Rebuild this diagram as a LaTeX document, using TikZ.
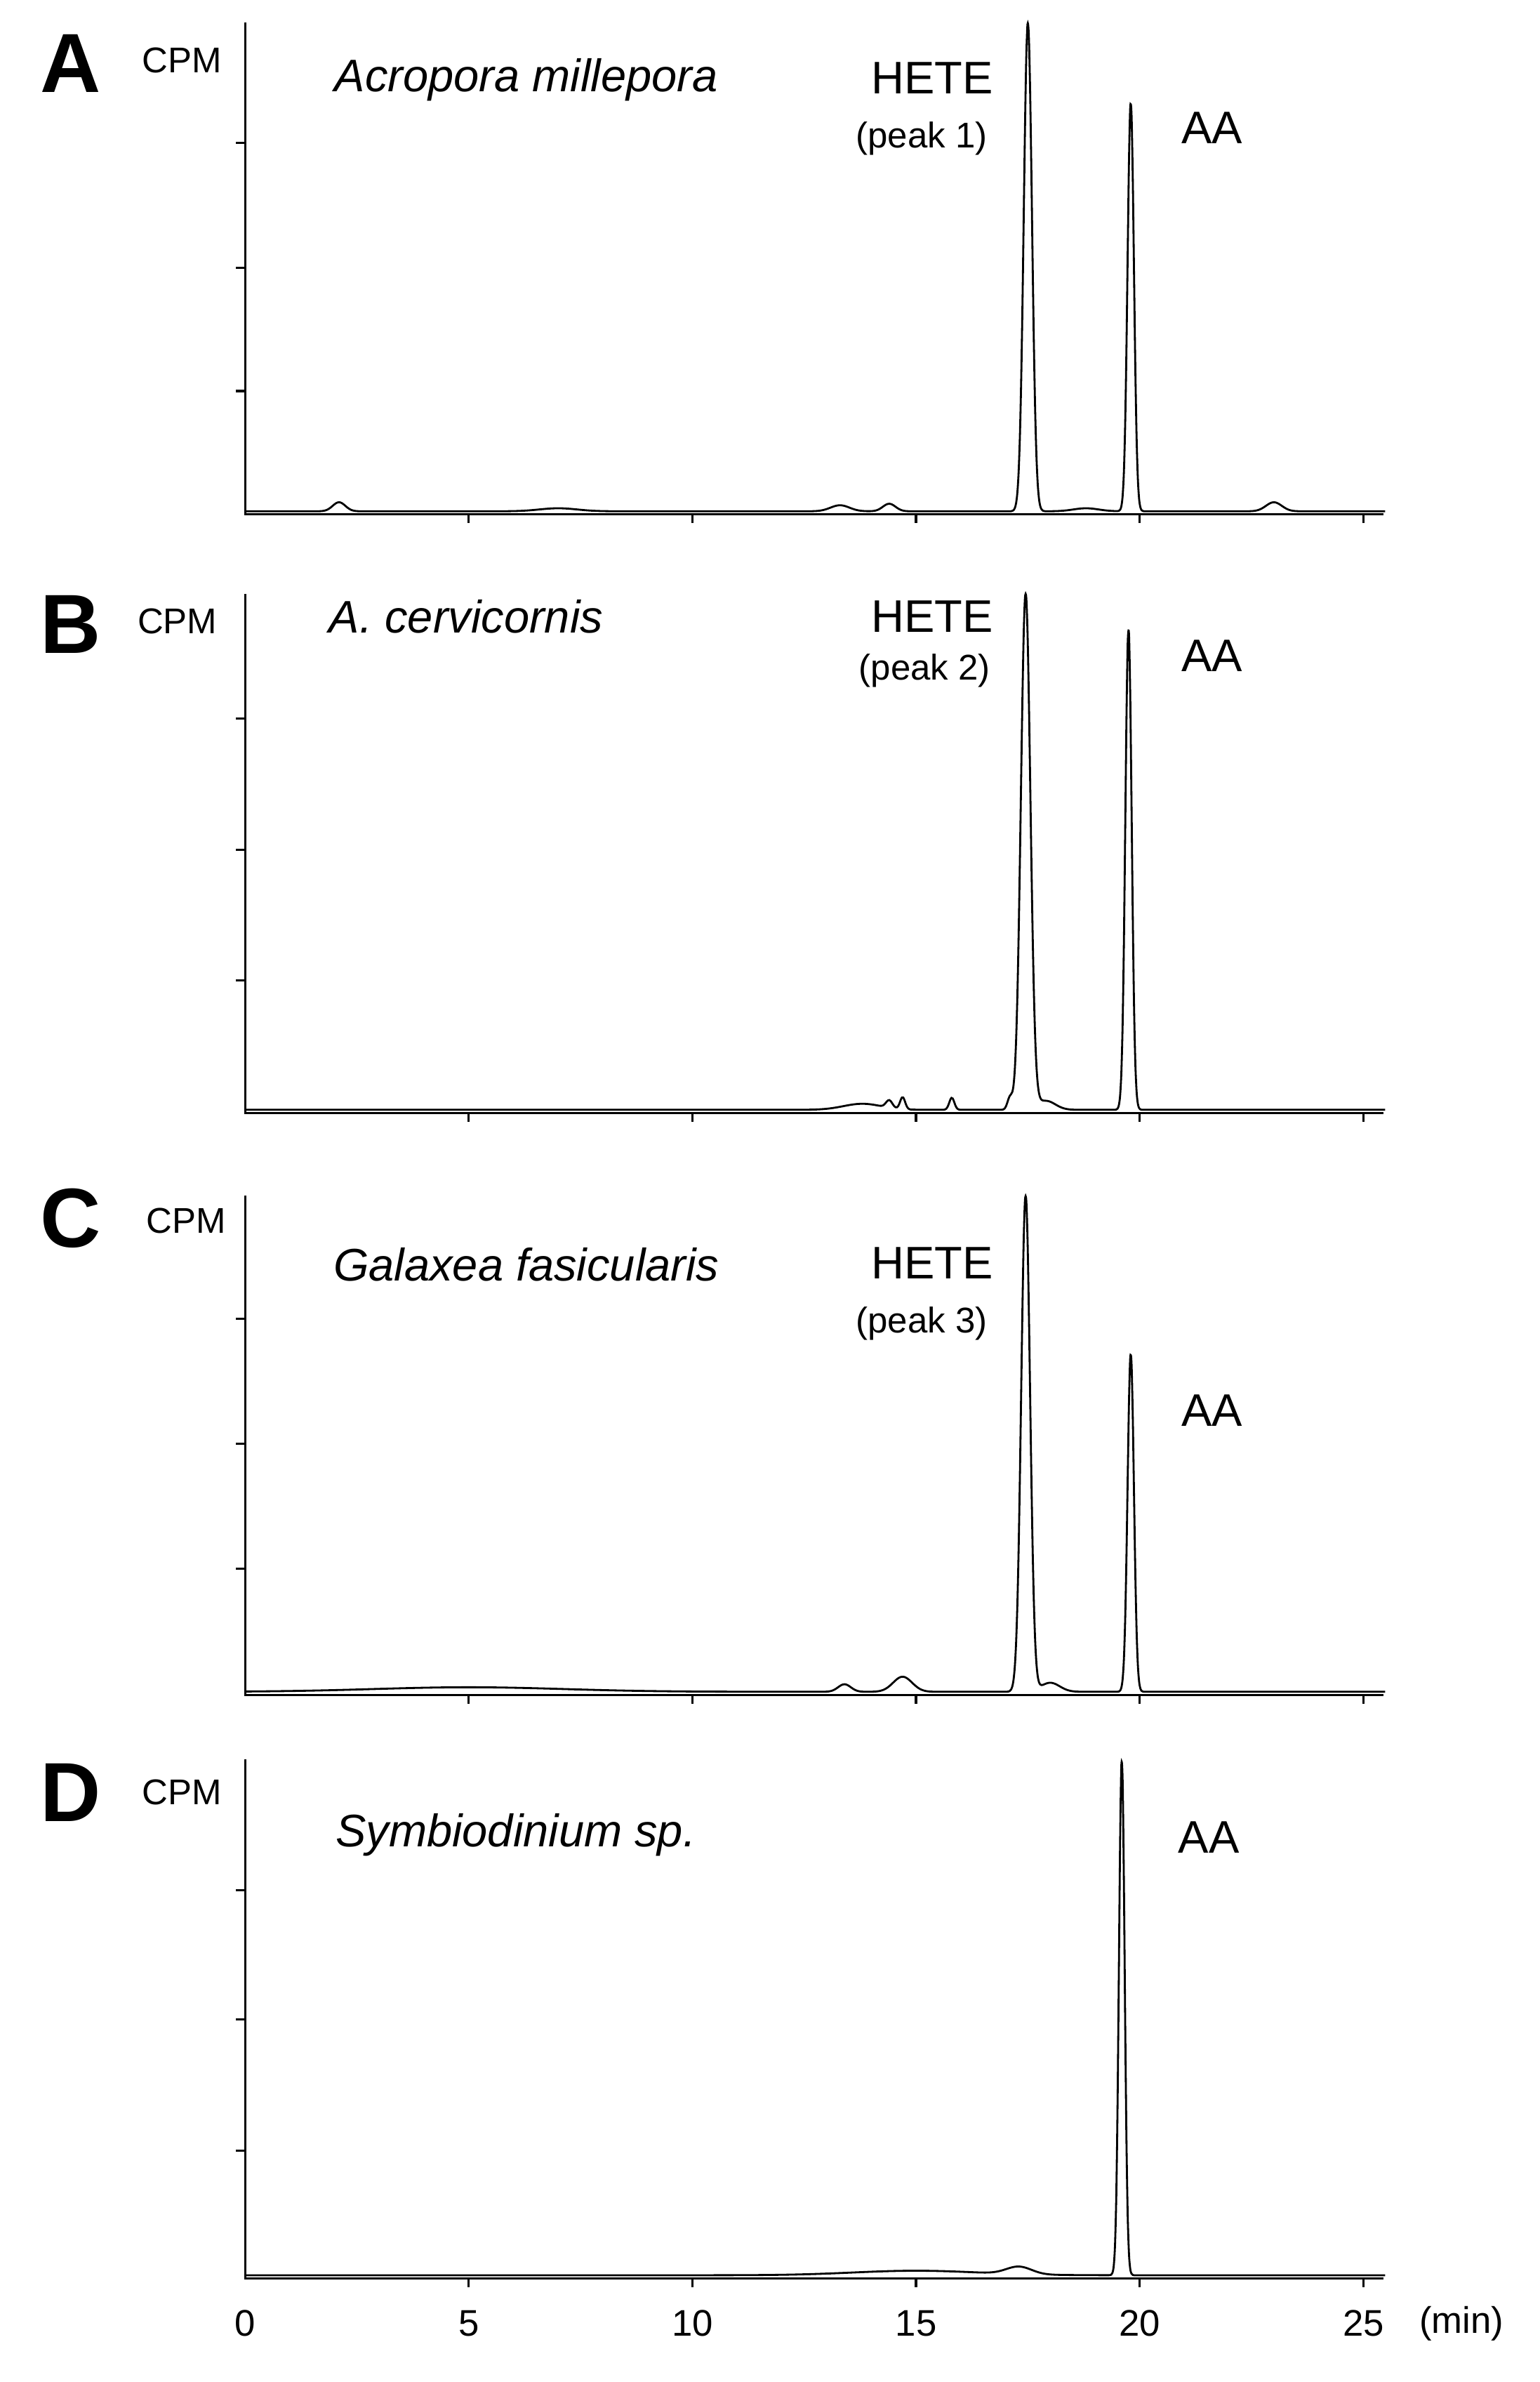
\documentclass[tikz,border=0pt]{standalone}
\usepackage{fontspec}
\setmainfont{Liberation Sans}
\begin{document}
\begin{tikzpicture}[x=0.02142cm,y=-0.02142cm,
  declare function={g(\t,\c,\s)=exp(-(min(abs(\t-\c)/\s,8))^2);},
  ax/.style={line width=0.9pt},
  tr/.style={line width=0.8pt},
  let/.style={font=\fontsize{34}{34}\selectfont\bfseries},
  cpm/.style={font=\fontsize{14.5}{15}\selectfont},
  sp/.style={font=\fontsize{18.5}{20}\selectfont\itshape},
  lab/.style={font=\fontsize{18.5}{20}\selectfont},
  pk/.style={font=\fontsize{14.5}{15}\selectfont},
  num/.style={font=\fontsize{15}{16}\selectfont}]
\useasboundingbox (0,0) rectangle (1024,1584);
% axes
\foreach \t/\b/\ya/\yb/\yc in {15/342/95/178/260, 395/740/478/565/652, 795/1127/877/960/1043, 1170/1515/1257/1343/1430}{
  \draw[ax] (163,\t) -- (163,\b) -- (920,\b);
  \foreach \yy in {\ya,\yb,\yc} \draw[ax] (157,\yy) -- (163,\yy);
  \foreach \m in {5,10,15,20,25} \draw[ax] ({163+29.75*\m},\b) -- ({163+29.75*\m},\b+6);
}
% traces
\draw[tr] plot[domain=0:25.5,samples=900,smooth] ({163+29.75*\x},{340-325*g(\x,17.5,0.13)-272*g(\x,19.8,0.1)-6*g(\x,2.1,0.2)-5*g(\x,14.4,0.2)-4*g(\x,13.3,0.3)-6*g(\x,23,0.25)-2*g(\x,18.8,0.4)-2*g(\x,7,0.6)});
\draw[tr] plot[domain=0:25.5,samples=900,smooth] ({163+29.75*\x},{738-343*g(\x,17.45,0.15)-320*g(\x,19.75,0.1)-8*g(\x,17.1,0.08)-8*g(\x,15.8,0.08)-8*g(\x,14.7,0.08)-5*g(\x,14.4,0.1)-4*g(\x,13.8,0.6)-6*g(\x,17.9,0.3)});
\draw[tr] plot[domain=0:25.5,samples=900,smooth] ({163+29.75*\x},{1125-330*g(\x,17.45,0.14)-225*g(\x,19.8,0.1)-10*g(\x,14.7,0.3)-5*g(\x,13.4,0.2)-6*g(\x,18,0.3)-3*g(\x,5,3)});
\draw[tr] plot[domain=0:25.5,samples=900,smooth] ({163+29.75*\x},{1513-343*g(\x,19.6,0.09)-5*g(\x,17.3,0.4)-3*g(\x,15,2)});
% labels
\node[let] (la) at (47,42) {A};
\node[cpm] (ca) at (121,40) {CPM};
\node[sp] (sa) at (350,53) {Acropora millepora};
\node[lab] (ha) at (620,52) {HETE};
\node[pk] (pa) at (613,92) {(peak 1)};
\node[lab] (aa) at (806,85) {AA};
\node[let] (lb) at (47,415) {B};
\node[cpm] (cb) at (118,413) {CPM};
\node[sp] (sb) at (310,410) {A. cervicornis};
\node[lab] (hb) at (620,410) {HETE};
\node[pk] (pb) at (615,446) {(peak 2)};
\node[lab] (ab) at (806,436) {AA};
\node[let] (lc) at (47,810) {C};
\node[cpm] (cc) at (124,812) {CPM};
\node[sp] (sc) at (350,841) {Galaxea fasicularis};
\node[lab] (hc) at (620,840) {HETE};
\node[pk] (pc) at (613,880) {(peak 3)};
\node[lab] (ac) at (806,938) {AA};
\node[let] (ld) at (47,1192) {D};
\node[cpm] (cd) at (121,1192) {CPM};
\node[sp] (sd) at (343,1220) {Symbiodinium sp.};
\node[lab] (ad) at (804,1222) {AA};
\foreach \m in {0,5,10,15,20,25} \node[num] (n\m) at ({163+29.75*\m},1545) {\m};
\node[num] (mn) at (972,1545) {(min)};
\end{tikzpicture}
\end{document}
